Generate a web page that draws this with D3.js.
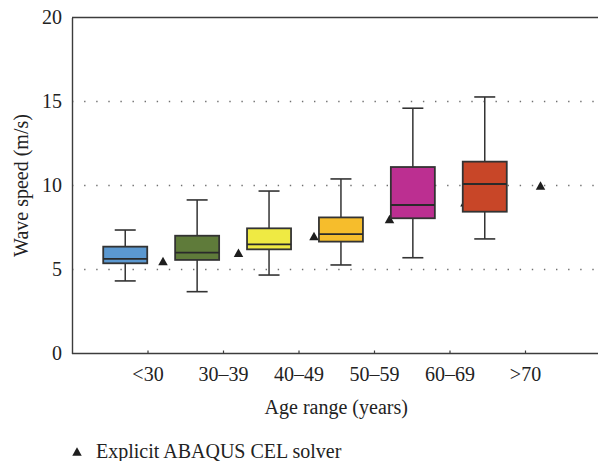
<!DOCTYPE html>
<html>
<head>
<meta charset="utf-8">
<script src="https://cdn.jsdelivr.net/npm/d3@7"></script>
<style>
  html, body { margin: 0; padding: 0; background: #fff; }
  svg { display: block; font-family: "Liberation Serif", "Times New Roman", serif; }
</style>
</head>
<body>
<svg id="chart" width="598" height="461"></svg>
<script>
// Age groups and box-plot summaries of measured wave speed (m/s)
const categories = ["<30", "30\u201339", "40\u201349", "50\u201359", "60\u201369", ">70"];
const whiskerLow  = [4.32, 3.68, 4.67, 5.27, 5.70, 6.82];
const quartile1   = [5.37, 5.57, 6.20, 6.66, 8.05, 8.44];
const medians     = [5.63, 6.00, 6.50, 7.11, 8.84, 10.09];
const quartile3   = [6.36, 7.01, 7.45, 8.10, 11.10, 11.42];
const whiskerHigh = [7.35, 9.14, 9.67, 10.39, 14.60, 15.27];
// Simulated values from the explicit ABAQUS CEL solver
const solverValues = [5.5, 6.0, 7.0, 8.0, 9.0, 10.0];
const yTicks = [0, 5, 10, 15, 20];
const gridValues = [5, 10, 15];
const boxColors = ["#5b98d0", "#5f7b3a", "#efea43", "#f6bd2c", "#bc2f91", "#c84628"];

const svg = d3.select("#chart");
const frame = { left: 72, right: 600.5, top: 17.5, bottom: 353.5 };

// Slot scale: categories sit at slots 1..6 of a 0..7 frame
const slot = d3.scaleLinear().domain([0, 7]).range([frame.left, frame.right]);
const x = d3.scalePoint().domain(categories).range([slot(1), slot(6)]);
// Boxes are drawn on their own slightly tighter spacing, left of each tick
const xBox = d3.scalePoint().domain(categories).range([slot(0.705), slot(5.467)]);
const y = d3.scaleLinear().domain([0, 20]).range([frame.bottom, frame.top]);

const boxW = 44, capW = 21, triOffset = 15.5;
const ink = "#333";

// Dotted grid lines
svg.append("g").selectAll("line").data(gridValues).join("line")
  .attr("x1", frame.left).attr("x2", frame.right)
  .attr("y1", d => y(d)).attr("y2", d => y(d))
  .attr("stroke", "#707070").attr("stroke-width", 1.4)
  .attr("stroke-dasharray", "1.4 10.7");

// Frame: top border plus the y and x axes
svg.append("line")
  .attr("x1", frame.left).attr("x2", frame.right)
  .attr("y1", y(20)).attr("y2", y(20))
  .attr("stroke", "#3c3c3c").attr("stroke-width", 1.4);

const yAxis = d3.axisLeft(y).tickValues(yTicks).tickSize(0).tickPadding(10).tickFormat(d3.format("d"));
const gy = svg.append("g").attr("transform", `translate(${frame.left},0)`).call(yAxis);
gy.select(".domain").attr("stroke", "#3c3c3c").attr("stroke-width", 1.4);
gy.selectAll("text").attr("font-size", 20).attr("fill", "#222")
  .attr("font-family", "Liberation Serif, serif");

const xAxis = d3.axisBottom(x).tickSizeInner(-3).tickSizeOuter(0).tickPadding(13);
const gx = svg.append("g").attr("transform", `translate(0,${frame.bottom})`).call(xAxis);
gx.select(".domain").attr("d", `M${frame.left},0H${frame.right}`)
  .attr("stroke", "#3c3c3c").attr("stroke-width", 1.4);
gx.selectAll(".tick line").attr("stroke", "#3c3c3c").attr("stroke-width", 1.2);
gx.selectAll("text").attr("font-size", 20).attr("fill", "#222")
  .attr("font-family", "Liberation Serif, serif");

// Triangle marker centred on its bounding box
function triangle(cx, cy, w, h) {
  return `M${cx},${cy - h / 2}L${cx + w / 2},${cy + h / 2}L${cx - w / 2},${cy + h / 2}Z`;
}

const groups = svg.append("g").selectAll("g").data(categories).join("g");

groups.each(function (cat, i) {
  const g = d3.select(this);
  const cx = xBox(cat);
  // Solver result marker
  g.append("path")
    .attr("d", triangle(x(cat) + triOffset, y(solverValues[i]), 9.5, 8.5))
    .attr("fill", "#1e1e1e");
  // Whiskers
  g.append("line").attr("x1", cx).attr("x2", cx)
    .attr("y1", y(quartile3[i])).attr("y2", y(whiskerHigh[i]))
    .attr("stroke", ink).attr("stroke-width", 1.5);
  g.append("line").attr("x1", cx).attr("x2", cx)
    .attr("y1", y(quartile1[i])).attr("y2", y(whiskerLow[i]))
    .attr("stroke", ink).attr("stroke-width", 1.5);
  [whiskerHigh[i], whiskerLow[i]].forEach(v => {
    g.append("line").attr("x1", cx - capW / 2).attr("x2", cx + capW / 2)
      .attr("y1", y(v)).attr("y2", y(v))
      .attr("stroke", ink).attr("stroke-width", 1.6);
  });
  // Interquartile box
  g.append("rect")
    .attr("x", cx - boxW / 2).attr("width", boxW)
    .attr("y", y(quartile3[i])).attr("height", y(quartile1[i]) - y(quartile3[i]))
    .attr("fill", boxColors[i]).attr("stroke", ink).attr("stroke-width", 1.8);
  // Median
  g.append("line").attr("x1", cx - boxW / 2).attr("x2", cx + boxW / 2)
    .attr("y1", y(medians[i])).attr("y2", y(medians[i]))
    .attr("stroke", "#2a2a2a").attr("stroke-width", 1.8);
});

// Axis titles
svg.append("text")
  .attr("transform", `translate(28,${(frame.top + frame.bottom) / 2}) rotate(-90)`)
  .attr("text-anchor", "middle").attr("font-size", 20).attr("fill", "#222")
  .text("Wave speed (m/s)");

svg.append("text")
  .attr("x", (slot(1) + slot(6)) / 2).attr("y", 414)
  .attr("text-anchor", "middle").attr("font-size", 20).attr("fill", "#222")
  .text("Age range (years)");

// Legend
svg.append("path").attr("d", triangle(77, 451.5, 9.5, 8.5)).attr("fill", "#1e1e1e");
svg.append("text").attr("x", 96).attr("y", 458)
  .attr("font-size", 20).attr("fill", "#222")
  .text("Explicit ABAQUS CEL solver");
</script>
</body>
</html>
